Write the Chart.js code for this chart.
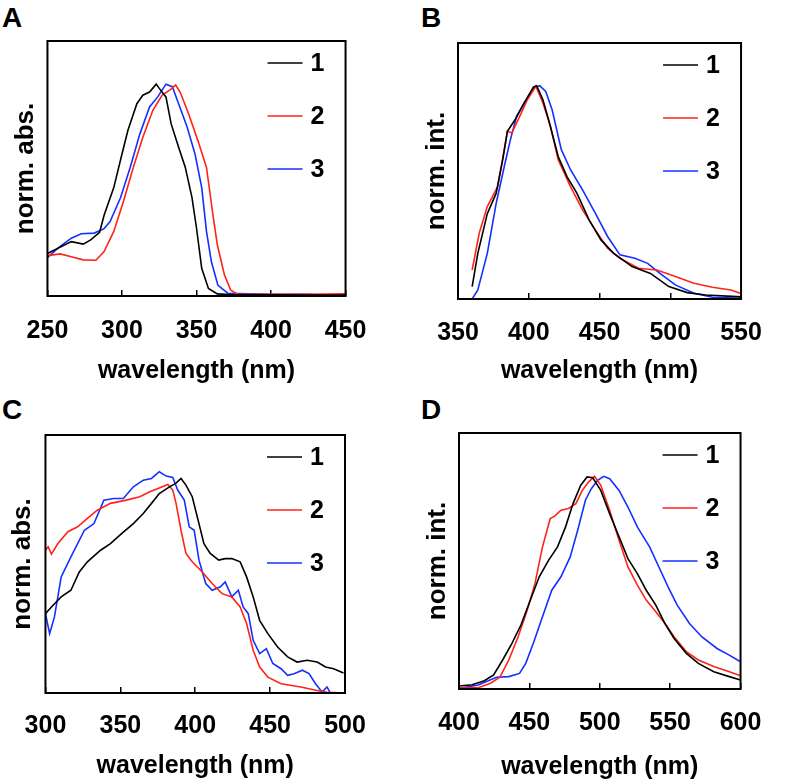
<!DOCTYPE html>
<html>
<head>
<meta charset="utf-8">
<script src="https://cdn.jsdelivr.net/npm/chart.js@4.4.1/dist/chart.umd.min.js"></script>
<style>
body { margin: 0; background: #fff; width: 787px; height: 784px; position: relative; overflow: hidden; font-family: "Liberation Sans", Arial, sans-serif; }
canvas { position: absolute; }
.tag { position: absolute; font-weight: bold; font-size: 28px; line-height: 1; color: #000; }
</style>
</head>
<body>
<div class="tag" style="left:2px;top:4px">A</div>
<div class="tag" style="left:421px;top:4px">B</div>
<div class="tag" style="left:2px;top:396px">C</div>
<div class="tag" style="left:421px;top:396px">D</div>
<canvas id="chartA" width="393" height="390" style="left:0;top:0"></canvas>
<canvas id="chartB" width="394" height="390" style="left:393px;top:0"></canvas>
<canvas id="chartC" width="393" height="394" style="left:0;top:390px"></canvas>
<canvas id="chartD" width="394" height="394" style="left:393px;top:390px"></canvas>
<script>
// series names
const seriesLabels = ['1', '2', '3'];
const seriesColors = ['#000000', '#ff2418', '#1430ff'];

// A: absorption
const wlA1 = [250,266,274,279,285,288,294.5,300,304,310,314,318.5,323,325,329.5,333,338,342.5,347,350,353.5,358,364,375,400,425,450];
const valA1 = [0.20,0.256,0.244,0.264,0.30,0.38,0.51,0.668,0.78,0.905,0.945,0.96,0.997,0.977,0.937,0.81,0.70,0.605,0.462,0.32,0.13,0.035,0.01,0.006,0.006,0.005,0.005];
const wlA2 = [250,258.5,266,274,282.5,288,294.5,301,307.6,314,320.7,327,332.7,336,339,344.7,351,356.7,361,364,368.8,373,377.5,400,425,450];
const valA2 = [0.19,0.198,0.185,0.17,0.168,0.209,0.304,0.446,0.605,0.747,0.874,0.945,0.972,0.993,0.96,0.858,0.73,0.605,0.383,0.24,0.098,0.027,0.008,0.008,0.008,0.01];
const wlA3 = [250,257,266,272.7,281.4,288,292,299,305.5,312,318.5,324,329.5,333.8,338,343.7,349,353.5,356.7,360,364.4,371,400,425,440,450];
const valA3 = [0.18,0.225,0.272,0.293,0.296,0.317,0.35,0.462,0.605,0.763,0.89,0.937,0.997,0.985,0.905,0.795,0.668,0.51,0.304,0.161,0.05,0.013,0.008,0.008,0.003,0.005];

// B: emission
const wlB1 = [360,364,370.7,377,381.6,384.9,390.3,396.8,403.4,405.6,410,414,420.8,427,434,442.6,451,460,473,486,499,512,525,547,550];
const valB1 = [0.058,0.214,0.40,0.496,0.653,0.786,0.84,0.919,0.994,1.0,0.934,0.84,0.668,0.574,0.496,0.371,0.277,0.214,0.152,0.12,0.058,0.03,0.019,0.011,0.01];
const wlB2 = [360,365,370.7,378,382.7,384.9,388,393.6,399,405,410,415.4,420.8,429.5,438,447,455.7,464.4,477.5,490.5,503.6,516.7,529.8,542.8,549.4];
const valB2 = [0.136,0.308,0.433,0.527,0.70,0.786,0.778,0.856,0.934,0.997,0.919,0.809,0.653,0.527,0.418,0.324,0.238,0.191,0.144,0.136,0.105,0.074,0.055,0.042,0.027];
const wlB3 = [360,364,370.7,377,382.7,387,391.4,396.8,403.4,407.7,412,416.5,423,429.5,438,447,455.7,464.4,475,484,492.7,503.6,516.7,529.8,550];
const valB3 = [0,0.042,0.214,0.449,0.621,0.746,0.856,0.919,0.99,1.0,0.973,0.887,0.70,0.606,0.512,0.402,0.293,0.207,0.191,0.167,0.12,0.066,0.027,0.008,0.003];

// C: absorption
const wlC1 = [300,304,310.5,317,322.6,328,336.8,343.4,351,358.7,365.3,370.8,376,382.8,387,390.5,393.8,398,402.5,405.8,410,415.7,420,424.4,430,434.3,438.7,443,448.5,455,461.7,468,474.8,481.4,487,492.4,499];
const valC1 = [0.369,0.40,0.447,0.478,0.563,0.61,0.664,0.695,0.742,0.788,0.835,0.882,0.928,0.959,0.975,0.998,0.967,0.913,0.788,0.695,0.649,0.618,0.625,0.625,0.61,0.54,0.447,0.338,0.276,0.214,0.168,0.144,0.152,0.144,0.121,0.113,0.093];
const wlC2 = [300,301.8,304,308.3,315,321.5,328,334.6,343.4,354,363,369.7,376,381.7,385,387.2,390.5,393.8,398,404.7,411.3,417.9,424.4,430,434.3,438.7,443,448.5,457.3,470.5,481.4,488,500];
const valC2 = [0.664,0.68,0.646,0.695,0.75,0.773,0.812,0.85,0.882,0.897,0.913,0.936,0.954,0.97,0.944,0.882,0.757,0.649,0.61,0.563,0.509,0.462,0.447,0.40,0.323,0.199,0.121,0.074,0.043,0.028,0.012,0.003,0];
const wlC3 = [300,302.8,306,310.5,317,326,332.4,339,345.6,352,358.7,365.3,370.8,376,380.6,385,388.3,392.7,396,399.3,402.5,407,411.3,416.8,420,424.4,428.8,432,435.4,438.7,443,447.5,451.8,457.3,461.7,466,471.5,476,480.3,484.7,488,490.2,500];
const valC3 = [0.369,0.276,0.354,0.54,0.633,0.757,0.788,0.897,0.905,0.905,0.959,0.99,0.998,1.029,1.009,1.003,0.944,0.897,0.773,0.757,0.618,0.509,0.478,0.494,0.517,0.447,0.478,0.40,0.369,0.245,0.183,0.206,0.137,0.113,0.082,0.09,0.106,0.09,0.043,0.005,0.028,0,0];

// D: emission
const wlD1 = [400,409.3,418,424.6,431,437.6,444,450.7,457,463.7,470,475.7,481,486.5,491,495,500.7,507,513.7,520,526.7,533,539.8,546.3,552.8,561.5,570,581,592,600];
const valD1 = [0.014,0.02,0.039,0.066,0.136,0.214,0.30,0.417,0.526,0.604,0.666,0.76,0.869,0.955,0.994,0.99,0.931,0.822,0.713,0.611,0.541,0.463,0.393,0.307,0.237,0.167,0.12,0.081,0.058,0.042];
const wlD2 = [400,413.7,422.4,429,435.4,442,448.5,454,459.3,464.8,468,472.4,477.8,483,487.6,492,496.3,500.7,507,513.7,520,526.7,533,539.8,546.3,552.8,561.5,570,581,592,600];
const valD2 = [0.006,0.006,0.027,0.055,0.136,0.245,0.37,0.495,0.666,0.799,0.81,0.838,0.846,0.869,0.931,0.97,0.997,0.955,0.838,0.697,0.572,0.487,0.417,0.362,0.307,0.245,0.175,0.136,0.105,0.081,0.062];
const wlD3 = [400,413.7,426.7,435.4,443,447.4,452.8,459.3,465.9,472.4,479,484.3,489.8,494,498.5,502.8,507,513.7,520,526.7,531,535.4,542,548.5,555,563.7,572.4,583.3,592,600];
const valD3 = [0.003,0.019,0.055,0.058,0.073,0.12,0.214,0.339,0.463,0.526,0.619,0.744,0.885,0.939,0.978,0.997,0.986,0.931,0.853,0.76,0.713,0.666,0.572,0.479,0.393,0.307,0.245,0.19,0.159,0.128];

const xTitle = 'wavelength (nm)';
const FONT = "'Liberation Sans', Arial, sans-serif";

const toPoints = (xs, ys) => xs.map((x, i) => ({ x: x, y: ys[i] }));

// box around plot + legend in the upper right corner
const frameAndKey = {
	id: 'frameAndKey',
	afterDatasetsDraw(chart) {
		const { ctx, chartArea: a } = chart;
		ctx.save();
		ctx.strokeStyle = '#000';
		ctx.lineWidth = 2;
		ctx.strokeRect(a.left, a.top, a.right - a.left, a.bottom - a.top);
		ctx.font = 'bold 25px ' + FONT;
		ctx.textBaseline = 'middle';
		ctx.textAlign = 'left';
		chart.data.datasets.forEach((ds, i) => {
			const y = a.top + 22 + 53 * i;
			ctx.strokeStyle = ds.borderColor;
			ctx.lineWidth = 1.5;
			ctx.beginPath();
			ctx.moveTo(a.right - 78, y);
			ctx.lineTo(a.right - 43, y);
			ctx.stroke();
			ctx.fillStyle = '#000';
			ctx.fillText(ds.label, a.right - 35, y + 1);
		});
		ctx.restore();
	}
};

function makePanel(id, yTitle, xMin, xMax, wls, vals, box) {
	const canvas = document.getElementById(id);
	const xH = box.titleY + 15 - box.b;
	new Chart(canvas, {
		type: 'line',
		data: {
			datasets: wls.map((wl, i) => ({
				label: seriesLabels[i],
				data: toPoints(wl, vals[i]),
				borderColor: seriesColors[i],
				borderWidth: 1.6,
				pointRadius: 0,
				tension: 0,
				fill: false
			}))
		},
		options: {
			responsive: false,
			animation: false,
			devicePixelRatio: 1,
			layout: {
				padding: { left: 0, top: box.t, right: canvas.width - box.r, bottom: canvas.height - box.b - xH }
			},
			plugins: { legend: { display: false }, tooltip: { enabled: false } },
			scales: {
				x: {
					type: 'linear',
					min: xMin,
					max: xMax,
					afterFit: s => { s.height = xH; },
					border: { display: false },
					grid: { drawOnChartArea: false, drawTicks: true, tickLength: -6, color: '#000', lineWidth: 1.5 },
					ticks: { stepSize: 50, color: '#000', padding: box.tickPad, maxRotation: 0, autoSkip: false, font: { family: FONT, size: 25, weight: 'bold' } },
					title: { display: true, text: xTitle, color: '#000', padding: { top: 0, bottom: 0 }, font: { family: FONT, size: 25, weight: 'bold' } }
				},
				y: {
					min: 0,
					max: 1.2,
					afterFit: s => { s.width = box.l; },
					border: { display: false },
					grid: { display: false },
					ticks: { display: false },
					title: { display: true, text: yTitle, color: '#000', padding: { top: box.titleX - 15, bottom: 0 }, font: { family: FONT, size: 26, weight: 'bold' } }
				}
			}
		},
		plugins: [frameAndKey]
	});
}

makePanel('chartA', 'norm. abs.', 250, 450, [wlA1, wlA2, wlA3], [valA1, valA2, valA3],
	{ l: 42, t: 41, r: 347, b: 296, titleY: 371, titleX: 20, tickPad: 26.6 });
makePanel('chartB', 'norm. int.', 350, 550, [wlB1, wlB2, wlB3], [valB1, valB2, valB3],
	{ l: 65, t: 43, r: 371, b: 299, titleY: 371, titleX: 43, tickPad: 25.1 });
makePanel('chartC', 'norm. abs.', 300, 500, [wlC1, wlC2, wlC3], [valC1, valC2, valC3],
	{ l: 41, t: 45, r: 345, b: 303, titleY: 376, titleX: 18, tickPad: 24.6 });
makePanel('chartD', 'norm. int.', 400, 600, [wlD1, wlD2, wlD3], [valD1, valD2, valD3],
	{ l: 66, t: 43, r: 372, b: 299, titleY: 377, titleX: 44, tickPad: 25.6 });
</script>
</body>
</html>
